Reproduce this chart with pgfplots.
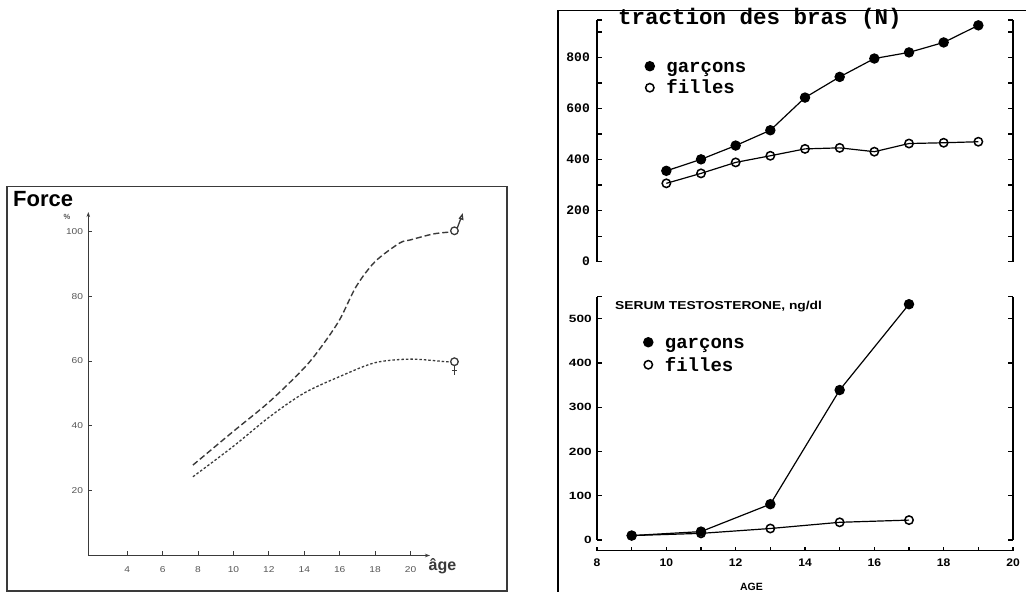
\documentclass[border=0pt]{standalone}
\usepackage{pgfplots}
\pgfplotsset{compat=1.18}
\usepackage{fontspec}
\setmainfont{Liberation Sans}
\newfontfamily\mono{Liberation Mono}
\usetikzlibrary{arrows.meta}
\definecolor{lgray}{HTML}{3A3A3A}
\definecolor{tgray}{HTML}{555555}
\pgfdeclareplotmark{male}{%
  \pgfpathcircle{\pgfpointorigin}{\pgfplotmarksize}\pgfusepathqfillstroke
  \pgfpathmoveto{\pgfpoint{0.75\pgfplotmarksize}{0.75\pgfplotmarksize}}%
  \pgfpathlineto{\pgfpoint{1.9\pgfplotmarksize}{3.8\pgfplotmarksize}}\pgfusepathqstroke
  \pgfpathmoveto{\pgfpoint{1.35\pgfplotmarksize}{3.3\pgfplotmarksize}}%
  \pgfpathlineto{\pgfpoint{2.05\pgfplotmarksize}{4.2\pgfplotmarksize}}%
  \pgfpathlineto{\pgfpoint{2.2\pgfplotmarksize}{3.0\pgfplotmarksize}}%
  \pgfpathclose\pgfusepathqfillstroke}
\pgfdeclareplotmark{female}{%
  \pgfpathcircle{\pgfpointorigin}{\pgfplotmarksize}\pgfusepathqfillstroke
  \pgfpathmoveto{\pgfpoint{0pt}{-\pgfplotmarksize}}%
  \pgfpathlineto{\pgfpoint{0pt}{-3.6\pgfplotmarksize}}\pgfusepathqstroke
  \pgfpathmoveto{\pgfpoint{-0.7\pgfplotmarksize}{-2.4\pgfplotmarksize}}%
  \pgfpathlineto{\pgfpoint{0.7\pgfplotmarksize}{-2.4\pgfplotmarksize}}\pgfusepathqstroke}
\begin{document}
\begin{tikzpicture}
\useasboundingbox (0pt,0pt) rectangle (1026pt,592pt);
% frames
\draw[lgray, line width=1.3pt] (7pt,1pt) rectangle (507pt,405.3pt);
\draw[black, line width=1.2pt] (558pt,0pt) -- (558pt,581.3pt) -- (1026pt,581.3pt);
\node[anchor=base west, inner sep=0pt, font=\bfseries\fontsize{22}{22}\selectfont] at (13pt,385pt) {Force};
\node[anchor=center, inner sep=0pt, text=tgray, font=\bfseries\fontsize{7.5}{7.5}\selectfont] at (67pt,375pt) {\%};

% ---------- left panel ----------
\begin{axis}[
  at={(88.3pt,36.5pt)}, anchor=south west, scale only axis,
  width=341.7pt, height=343.5pt,
  xmin=1.8, xmax=21.1, ymin=0, ymax=106,
  axis lines=left, clip=false,
  axis line style={draw=lgray, line width=1.1pt, -{Stealth[length=5pt,width=3.5pt]}},
  xtick={4,6,...,20}, ytick={20,40,...,100},
  tick align=inside, major tick length=4pt,
  tick style={lgray, line width=0.9pt},
  /pgf/number format/assume math mode=true,
  xticklabel style={inner sep=0pt, anchor=north, yshift=-11pt, text=tgray, font=\fontsize{8.5}{8.5}\selectfont, xscale=1.2},
  yticklabel style={inner sep=0pt, anchor=east, xshift=-5pt, text=tgray, font=\fontsize{8.5}{8.5}\selectfont, xscale=1.2},
]
\addplot[lgray, line width=1.4pt, smooth, tension=0.5, dash pattern=on 6pt off 3pt] coordinates {
 (7.71,27.9) (9.97,38.2) (12.04,47.5) (13.98,57.8) (14.96,64.4) (15.99,72.7)
 (16.93,83.0) (18.0,90.7) (19.38,96.4) (20.0,97.4) (21.26,99.2) (22.2,99.8)};
\addplot[lgray, line width=1.3pt, smooth, tension=0.5, dash pattern=on 2.5pt off 2pt] coordinates {
 (7.71,24.3) (9.97,33.6) (12.04,42.8) (13.98,50.1) (15.99,55.2) (18.0,59.5)
 (20.0,60.6) (22.0,59.8) (22.25,59.8)};
\addplot[only marks, mark=male, mark size=3.8pt, mark options={draw=lgray, fill=white, line width=1.3pt}] coordinates {(22.48,100.2)};
\addplot[only marks, mark=female, mark size=3.8pt, mark options={draw=lgray, fill=white, line width=1.3pt}] coordinates {(22.48,59.8)};
\node[anchor=center, inner sep=0pt, font=\bfseries\fontsize{16}{16}\selectfont, text=lgray] at (axis cs:21.8,-3.3) {âge};
\end{axis}

% ---------- top right ----------
\begin{axis}[
  at={(597pt,330.3pt)}, anchor=south west, scale only axis,
  width=416pt, height=241.7pt,
  xmin=8, xmax=20, ymin=0, ymax=947,
  axis x line=none, axis y line=box, clip=false,
  axis line style={black, line width=1.4pt, -},
  ytick={0,200,...,800}, minor ytick={100,300,...,900},
  extra y ticks={947}, extra y tick labels={},
  ytick pos=both, yticklabel pos=left,
  tick align=inside, major tick length=5pt, minor tick length=5pt,
  tick style={black, line width=1.3pt},
  /pgf/number format/assume math mode=true,
  yticklabel style={inner sep=0pt, anchor=east, xshift=-7pt, font=\mono\bfseries\fontsize{13}{13}\selectfont},
  legend style={draw=none, fill=none, at={(0.1154,0.859)}, anchor=north west, inner sep=0pt,
    font=\mono\bfseries\fontsize{19}{19}\selectfont, row sep=0pt,
    /tikz/every odd column/.append style={column sep=10pt}},
  legend cell align=left,
  legend image code/.code={\draw[#1] plot coordinates {(4.5pt,-1.2pt)};},
]
\addplot[black, line width=1.2pt, mark=*, mark size=4.6pt, mark options={fill=black}] coordinates {
 (10,356) (11,401) (12,455) (13,515) (14,643) (15,724) (16,796) (17,820) (18,859) (19,926)};
\addlegendentry{\rule[-7pt]{0pt}{23pt}garçons}
\addplot[black, line width=1.2pt, mark=o, mark size=4.2pt, mark options={fill=white, line width=1.5pt}] coordinates {
 (10,307) (11,346) (12,389) (13,415) (14,442) (15,446) (16,431) (17,463) (18,466) (19,470)};
\addlegendentry{\rule[-7pt]{0pt}{23pt}filles}
\end{axis}
\node[anchor=base west, inner sep=0pt, font=\mono\bfseries\fontsize{22.5}{22.5}\selectfont] at (618pt,567pt) {traction des bras (N)};

% ---------- bottom right ----------
\begin{axis}[
  at={(597pt,52pt)}, anchor=south west, scale only axis,
  width=416pt, height=243.3pt,
  xmin=8, xmax=20, ymin=0, ymax=550,
  axis x line=none, axis y line=box, clip=false,
  axis line style={black, line width=1.4pt, -},
  ytick={0,100,...,500},
  extra y ticks={550}, extra y tick labels={},
  ytick pos=both, yticklabel pos=left,
  tick align=inside, major tick length=5pt,
  tick style={black, line width=1.3pt},
  /pgf/number format/assume math mode=true,
  yticklabel style={inner sep=0pt, anchor=east, xshift=-5pt, font=\bfseries\fontsize{10.5}{10.5}\selectfont, xscale=1.3},
  legend style={draw=none, fill=none, at={(0.1118,0.8644)}, anchor=north west, inner sep=0pt,
    font=\mono\bfseries\fontsize{19}{19}\selectfont, row sep=0pt,
    /tikz/every odd column/.append style={column sep=10pt}},
  legend cell align=left,
  legend image code/.code={\draw[#1] plot coordinates {(4.5pt,-1.1pt)};},
]
\addplot[black, line width=1.2pt, mark=*, mark size=4.6pt, mark options={fill=black}] coordinates {
 (9,10) (11,19) (13,81) (15,339) (17,533)};
\addlegendentry{\rule[-8pt]{0pt}{25pt}garçons}
\addplot[black, line width=1.2pt, mark=o, mark size=4.2pt, mark options={fill=white, line width=1.5pt}] coordinates {
 (9,10) (11,15) (13,26) (15,40) (17,45)};
\addlegendentry{\rule[-8pt]{0pt}{25pt}filles}
\end{axis}
\node[anchor=base west, inner sep=0pt, font=\bfseries\fontsize{11.5}{11.5}\selectfont, xscale=1.2] at (615pt,282pt) {SERUM TESTOSTERONE, ng/dl};

% x axis of bottom right
\begin{axis}[
  at={(597pt,41.3pt)}, anchor=south west, scale only axis,
  width=416pt, height=10pt,
  xmin=8, xmax=20, ymin=0, ymax=1,
  axis y line=none, axis x line=bottom,
  axis line style={black, line width=1.4pt, -},
  xtick={8,10,...,20}, minor xtick={9,11,...,19},
  tick align=inside, major tick length=4pt, minor tick length=4pt,
  tick style={black, line width=1.3pt},
  /pgf/number format/assume math mode=true,
  xticklabel style={inner sep=0pt, anchor=north, yshift=-8pt, font=\bfseries\fontsize{11}{11}\selectfont, xscale=1.1},
]
\addplot[draw=none] coordinates {(8,0)};
\end{axis}
\node[anchor=base, inner sep=0pt, font=\bfseries\fontsize{10.5}{10.5}\selectfont] at (751.5pt,1.5pt) {AGE};
\end{tikzpicture}
\end{document}
